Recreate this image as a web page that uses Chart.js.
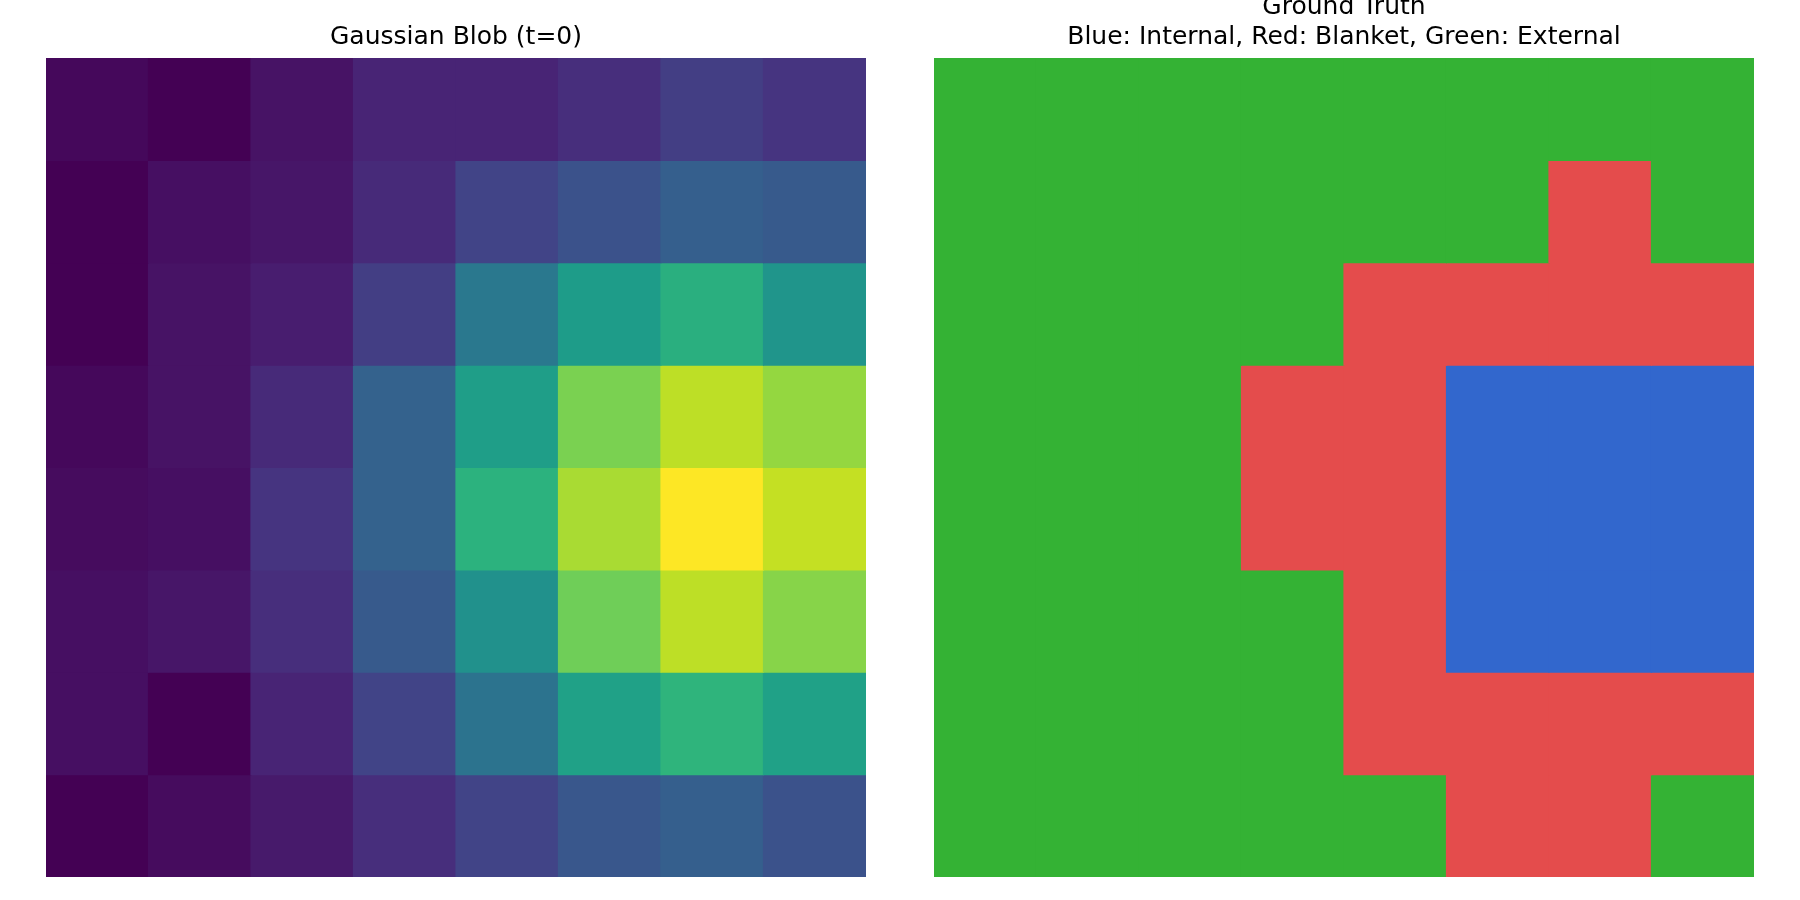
<!DOCTYPE html>
<html>
<head>
<meta charset="utf-8">
<script src="https://cdn.jsdelivr.net/npm/chart.js@4/dist/chart.umd.min.js"></script>
<style>
  html, body { margin: 0; padding: 0; background: #ffffff; overflow: hidden; width: 1800px; height: 900px; }
  .panel { position: absolute; top: -20px; width: 900px; height: 920px; }
  #p1 { left: 0; }
  #p2 { left: 900px; }
</style>
</head>
<body>
<div class="panel" id="p1"><canvas id="c1" width="900" height="920"></canvas></div>
<div class="panel" id="p2"><canvas id="c2" width="900" height="920"></canvas></div>
<script>
// ---- data ----
const columns = ['0', '1', '2', '3', '4', '5', '6', '7'];
const rowIndex = [0, 1, 2, 3, 4, 5, 6, 7];

// Gaussian blob intensities (normalised 0..1), row 0 = top
const blobRow0 = [0.02, 0.00, 0.05, 0.10, 0.10, 0.13, 0.18, 0.15];
const blobRow1 = [0.00, 0.04, 0.06, 0.12, 0.20, 0.25, 0.30, 0.28];
const blobRow2 = [0.00, 0.05, 0.08, 0.18, 0.40, 0.55, 0.63, 0.52];
const blobRow3 = [0.02, 0.05, 0.12, 0.31, 0.56, 0.80, 0.90, 0.84];
const blobRow4 = [0.03, 0.04, 0.15, 0.31, 0.64, 0.87, 1.00, 0.91];
const blobRow5 = [0.04, 0.06, 0.13, 0.28, 0.50, 0.78, 0.90, 0.82];
const blobRow6 = [0.04, 0.00, 0.10, 0.20, 0.38, 0.57, 0.65, 0.57];
const blobRow7 = [0.00, 0.03, 0.07, 0.13, 0.20, 0.27, 0.30, 0.25];
const blobRows = [blobRow0, blobRow1, blobRow2, blobRow3, blobRow4, blobRow5, blobRow6, blobRow7];

// Ground truth labels: I = internal, B = blanket, E = external
const truthRow0 = ['E', 'E', 'E', 'E', 'E', 'E', 'E', 'E'];
const truthRow1 = ['E', 'E', 'E', 'E', 'E', 'E', 'B', 'E'];
const truthRow2 = ['E', 'E', 'E', 'E', 'B', 'B', 'B', 'B'];
const truthRow3 = ['E', 'E', 'E', 'B', 'B', 'I', 'I', 'I'];
const truthRow4 = ['E', 'E', 'E', 'B', 'B', 'I', 'I', 'I'];
const truthRow5 = ['E', 'E', 'E', 'E', 'B', 'I', 'I', 'I'];
const truthRow6 = ['E', 'E', 'E', 'E', 'B', 'B', 'B', 'B'];
const truthRow7 = ['E', 'E', 'E', 'E', 'E', 'B', 'B', 'E'];
const truthRows = [truthRow0, truthRow1, truthRow2, truthRow3, truthRow4, truthRow5, truthRow6, truthRow7];

const titleLeft = 'Gaussian Blob (t=0)';
const titleRight = ['Ground Truth', 'Blue: Internal, Red: Blanket, Green: External'];

// ---- styles ----
const labelColors = { I: '#3267cd', B: '#e44c4c', E: '#34b234' };
const viridisStops = [
  '#440154', '#471365', '#482475', '#463480', '#414487', '#3b528b', '#355f8d',
  '#2f6c8e', '#2a788e', '#25848e', '#21918c', '#1e9c89', '#22a884', '#2fb47c',
  '#44bf70', '#5ec962', '#7ad151', '#9bd93c', '#bddf26', '#dfe318', '#fde725'
];
function hexToRgb(h) { return [parseInt(h.slice(1,3),16), parseInt(h.slice(3,5),16), parseInt(h.slice(5,7),16)]; }
function viridis(v) {
  const t = Math.max(0, Math.min(1, v)) * (viridisStops.length - 1);
  const i = Math.min(Math.floor(t), viridisStops.length - 2);
  const f = t - i;
  const a = hexToRgb(viridisStops[i]), b = hexToRgb(viridisStops[i + 1]);
  const c = a.map((x, k) => Math.round(x + (b[k] - x) * f));
  return 'rgb(' + c.join(',') + ')';
}

const titleFont = { family: "'DejaVu Sans', sans-serif", size: 25, weight: 'normal', lineHeight: 1.2 };

function makeDatasets(colorRows) {
  return rowIndex.map((r) => ({
    data: columns.map(() => [r, r + 1]),
    backgroundColor: colorRows[r],
    borderWidth: 0,
    inflateAmount: 0.6,
    grouped: false,
    barPercentage: 1,
    categoryPercentage: 1
  }));
}

function makeOptions(title, padTop, padding) {
  return {
    responsive: false,
    devicePixelRatio: 1,
    animation: false,
    layout: { padding: padding },
    plugins: {
      legend: { display: false },
      tooltip: { enabled: false },
      title: {
        display: true,
        text: title,
        color: '#000000',
        font: titleFont,
        padding: { top: padTop, bottom: 5.5 }
      }
    },
    scales: {
      x: { type: 'category', display: false, offset: true, grid: { display: false } },
      y: { type: 'linear', display: false, min: 0, max: 8, reverse: true, grid: { display: false } }
    }
  };
}

const blobColors = blobRows.map(row => row.map(viridis));
const truthColors = truthRows.map(row => row.map(l => labelColors[l]));

new Chart(document.getElementById('c1'), {
  type: 'bar',
  data: { labels: columns, datasets: makeDatasets(blobColors) },
  options: makeOptions(titleLeft, 42.5, { left: 46, right: 34, top: 0, bottom: 23 })
});

new Chart(document.getElementById('c2'), {
  type: 'bar',
  data: { labels: columns, datasets: makeDatasets(truthColors) },
  options: makeOptions(titleRight, 12.5, { left: 34, right: 46, top: 0, bottom: 23 })
});
</script>
</body>
</html>
